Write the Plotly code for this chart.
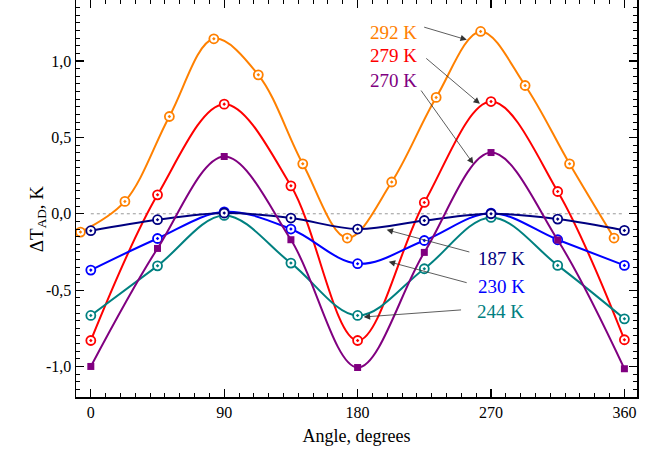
import plotly.graph_objects as go

# ---- data ----
angles = [0, 45, 90, 135, 180, 225, 270, 315, 360]
angles_292 = [-7, 23, 53, 83, 113, 143, 173, 203, 233, 263, 293, 323, 353]

t292 = [-0.120, 0.081, 0.637, 1.146, 0.910, 0.327, -0.159, 0.208, 0.762, 1.194, 0.840, 0.327, -0.159]
t279 = [-0.830, 0.124, 0.718, 0.183, -0.830, 0.074, 0.735, 0.146, -0.825]
t270 = [-1.000, -0.227, 0.375, -0.170, -1.007, -0.253, 0.401, -0.172, -1.015]
t244 = [-0.666, -0.341, -0.011, -0.323, -0.666, -0.360, -0.024, -0.338, -0.688]
t230 = [-0.369, -0.162, 0.013, -0.100, -0.327, -0.175, 0.004, -0.170, -0.338]
t187 = [-0.111, -0.039, 0.005, -0.028, -0.100, -0.044, 0.000, -0.035, -0.109]

labels = ["292 K", "279 K", "270 K", "187 K", "230 K", "244 K"]
colors = {"292 K": "#FF8000", "279 K": "#FF0000", "270 K": "#800080",
          "244 K": "#008080", "230 K": "#0000FF", "187 K": "#000080"}

x_ticks = [0, 90, 180, 270, 360]
y_ticks = [-1.0, -0.5, 0.0, 0.5, 1.0]
y_ticktext = ["-1,0", "-0,5", "0,0", "0,5", "1,0"]

FONT = "Liberation Serif"

fig = go.Figure()

series = [
    ("292 K", angles_292, t292, "circle-dot"),
    ("279 K", angles, t279, "circle-dot"),
    ("244 K", angles, t244, "circle-dot"),
    ("230 K", angles, t230, "circle-dot"),
    ("187 K", angles, t187, "circle-dot"),
    ("270 K", angles, t270, "square"),
]

for name, xs, ys, sym in series:
    c = colors[name]
    if sym == "square":
        marker = dict(symbol="square", size=7, color=c, line=dict(width=0))
    else:
        marker = dict(symbol="circle-dot", size=9, color="white", line=dict(color=c, width=1.8))
    fig.add_trace(go.Scatter(
        x=xs, y=ys, mode="lines+markers", name=name,
        line=dict(color=c, width=2, shape="spline", smoothing=1.0),
        marker=marker, showlegend=False, cliponaxis=True, hoverinfo="skip",
    ))

# zero reference line
fig.add_shape(type="line", x0=0, x1=360, y0=0, y1=0, xref="x", yref="y",
              line=dict(color="#999999", width=1, dash="dot"), layer="below")

# text labels
text_pos = {
    "292 K": (204.5, 1.187), "279 K": (204.5, 1.035), "270 K": (204.5, 0.871),
    "187 K": (277.3, -0.290), "230 K": (277.1, -0.476), "244 K": (276.7, -0.640),
}
for name in labels:
    tx, ty = text_pos[name]
    fig.add_annotation(x=tx, y=ty, text=name, showarrow=False,
                       font=dict(family=FONT, size=19, color=colors[name]),
                       xanchor="center", yanchor="middle")

# arrows (tail -> tip)
arrows = [
    ((223.9, 1.225), (253.7, 1.139)),
    ((225.3, 1.026), (262.5, 0.720)),
    ((222.1, 0.817), (258.1, 0.327)),
    ((256.4, -0.253), (199.6, -0.105)),
    ((254.6, -0.454), (201.0, -0.314)),
    ((250.8, -0.629), (184.1, -0.676)),
]
for (ax_, ay_), (x_, y_) in arrows:
    fig.add_annotation(x=x_, y=y_, ax=ax_, ay=ay_, xref="x", yref="y",
                       axref="x", ayref="y", text="", showarrow=True,
                       arrowhead=2, arrowsize=1.6, arrowwidth=0.8,
                       arrowcolor="#333333", standoff=0, startstandoff=0)

# y-axis title as rotated annotation
fig.add_annotation(x=-0.068, y=0.45, xref="paper", yref="paper",
                   text="ΔT<sub>AD</sub>, K", textangle=-90, showarrow=False,
                   font=dict(family=FONT, size=19, color="black"),
                   xanchor="center", yanchor="middle")

axis_common = dict(
    showline=True, linecolor="black", linewidth=1.5, mirror="ticks",
    ticks="inside", ticklen=8, tickwidth=1.2, tickcolor="black",
    showgrid=False, zeroline=False, automargin=False,
    tickfont=dict(family=FONT, size=16, color="black"),
)

fig.update_xaxes(
    range=[-10, 368.5], tickvals=x_ticks, ticktext=[str(v) for v in x_ticks],
    minor=dict(ticks="inside", ticklen=4, tickwidth=1, tickcolor="black", dtick=10, tick0=0),
    title=dict(text="Angle, degrees", font=dict(family=FONT, size=18, color="black"), standoff=9),
    **axis_common,
)
fig.update_yaxes(
    range=[-1.2, 1.4], tickvals=y_ticks, ticktext=y_ticktext,
    minor=dict(ticks="inside", ticklen=4, tickwidth=1, tickcolor="black", dtick=0.05, tick0=0),
    **axis_common,
)

fig.update_layout(
    width=651, height=453,
    margin=dict(l=76, r=14, t=0, b=56),
    paper_bgcolor="white", plot_bgcolor="white",
    font=dict(family=FONT),
)

fig.write_html("out.html", config={"displayModeBar": False, "staticPlot": True},
               post_script="document.body.style.margin='0';document.body.style.overflow='hidden';")
